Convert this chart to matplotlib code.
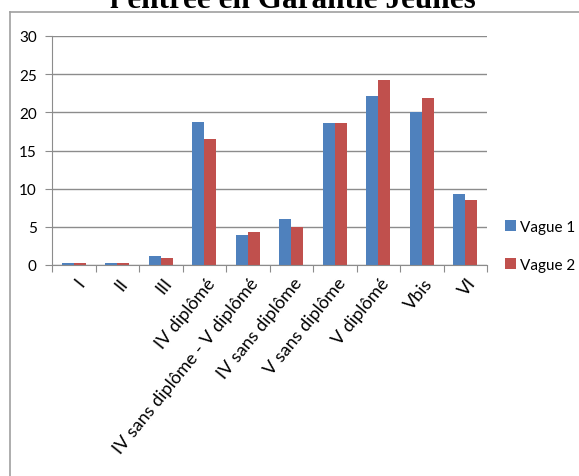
import matplotlib.pyplot as plt
import numpy as np
from matplotlib.lines import Line2D
from matplotlib import transforms

categories = ['I', 'II', 'III', 'IV diplômé', 'IV sans diplôme - V diplômé',
              'IV sans diplôme', 'V sans diplôme', 'V diplômé', 'Vbis', 'VI']
vague1 = [0.2, 0.3, 1.2, 18.7, 3.9, 6.0, 18.6, 22.1, 20.0, 9.3]
vague2 = [0.2, 0.2, 0.9, 16.5, 4.3, 5.0, 18.6, 24.3, 21.9, 8.5]

W, H = 579, 477
fig = plt.figure(figsize=(W / 100, H / 100), dpi=100)
ax = fig.add_axes([52 / W, 1 - 266 / H, (487 - 52) / W, (266 - 37) / H])

x = np.arange(len(categories))
w = 0.275
ax.bar(x - w / 2, vague1, w, color='#4F81BD', label='Vague 1', zorder=3)
ax.bar(x + w / 2, vague2, w, color='#C0504D', label='Vague 2', zorder=3)

ax.set_xlim(-0.5, len(categories) - 0.5)
ax.set_ylim(0, 30)
ax.set_yticks(range(0, 31, 5))
ax.yaxis.grid(True, color='#8c8c8c', linewidth=1, zorder=0)

for s in ['top', 'right']:
    ax.spines[s].set_visible(False)
for s in ['left', 'bottom']:
    ax.spines[s].set_color('#8c8c8c')
    ax.spines[s].set_zorder(4)

# ticks sit between categories, labels at category centres
ax.set_xticks(np.arange(-0.5, len(categories), 1))
ax.set_xticklabels([])
ax.set_xticks(x, minor=True)
ax.set_xticklabels(categories, minor=True, rotation=51, ha='right', va='center',
                   rotation_mode='anchor', fontsize=13, family='Lato')
ax.tick_params(axis='x', which='major', length=5, color='#8c8c8c', direction='out')
ax.tick_params(axis='x', which='minor', length=0, pad=12)
ax.tick_params(axis='y', length=5, color='#8c8c8c', labelsize=11, pad=6)
for t in ax.get_yticklabels():
    t.set_family('Lato')

# nudge the slanted labels to the right of the category centre
shift = transforms.ScaledTranslation(8 / 100, 2 / 100, fig.dpi_scale_trans)
for t in ax.get_xticklabels(minor=True):
    t.set_transform(t.get_transform() + shift)

ax.legend(loc='center left', bbox_to_anchor=(505 / W, 1 - 247 / H),
          bbox_transform=fig.transFigure, frameon=False,
          handlelength=0.7, handleheight=0.7, handletextpad=0.3,
          labelspacing=1.55, borderpad=0, borderaxespad=0,
          prop={'family': 'Lato', 'size': 11})

# outer frame of the chart object
fig.add_artist(Line2D([9.5 / W, 9.5 / W], [0, 1 - 13 / H], color='#a0a0a0', lw=1.2))
fig.add_artist(Line2D([9.5 / W, 1], [1 - 13 / H, 1 - 13 / H], color='#a0a0a0', lw=1.2))

fig.text(293 / W, 1 - 8 / H, "l'entrée en Garantie Jeunes", ha='center', va='baseline',
         fontsize=22.5, fontweight='bold', family='Liberation Serif')

fig.savefig('out.png', dpi=100)
